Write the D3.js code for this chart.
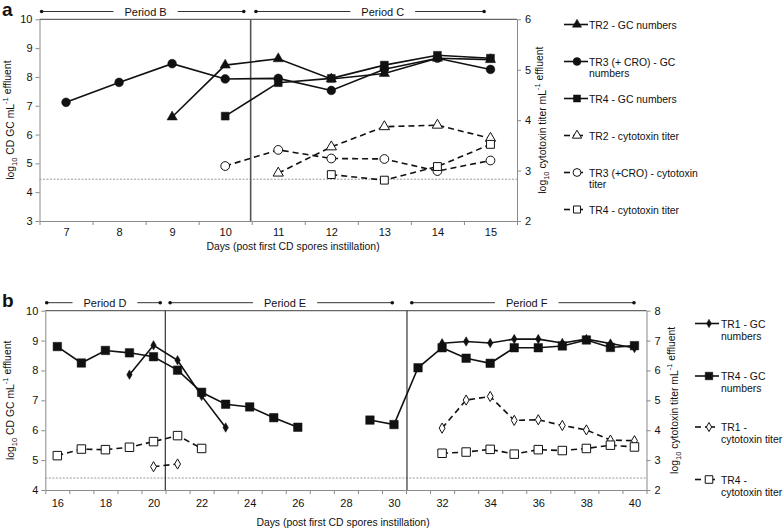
<!DOCTYPE html>
<html><head><meta charset="utf-8">
<script src="https://cdn.jsdelivr.net/npm/d3@7/dist/d3.min.js"></script>
<style>
body{margin:0;background:#fff;}
svg text{font-family:"Liberation Sans",Arial,sans-serif;fill:#111;}
</style></head>
<body><svg id="c" width="784" height="529"></svg>
<script>
// ---------- Panel a data ----------
const daysA = [7,8,9,10,11,12,13,14,15];
const tr2GcA   = [null,null,6.61,8.41,8.63,7.93,8.12,8.65,8.60];
const tr3GcA   = [7.12,7.81,8.46,7.93,7.95,7.53,8.27,8.65,8.26];
const tr4GcA   = [null,null,null,6.64,7.80,7.95,8.41,8.75,8.65];
const tr2CytoA = [null,null,null,null,2.95,3.47,3.87,3.90,3.64];
const tr3CytoA = [null,null,null,3.09,3.41,3.24,3.23,2.99,3.20];
const tr4CytoA = [null,null,null,null,null,2.92,2.81,3.08,3.52];
const leftTicksA = [3,4,5,6,7,8,9,10];
const rightTicksA = [2,3,4,5,6];
const periodsA = [{label:"Period B",from:6.54,to:10.35,mid:8.5},{label:"Period C",from:10.58,to:14.88,mid:12.97}];
const dividerA = [10.48];
const limitA = 4.45;

// ---------- Panel b data ----------
const daysB = d3.range(16,41);
const tr1GcB   = [null,null,null,7.86,8.84,8.34,7.15,6.09,null,null,null,null,null,null,null,null,8.91,8.97,8.92,9.05,9.05,8.92,9.05,8.90,8.75];
const tr4GcB   = [8.80,8.25,8.67,8.59,8.46,8.01,7.27,6.87,6.78,6.42,6.10,null,null,6.34,6.19,8.09,8.76,8.41,8.24,8.76,8.76,8.82,9.02,8.77,8.83];
const tr1CytoB = [null,null,null,null,2.78,2.87,null,null,null,null,null,null,null,null,null,null,4.07,5.01,5.13,4.33,4.35,4.16,4.01,3.67,3.65];
const tr4CytoB = [3.15,3.37,3.35,3.43,3.62,3.82,3.39,null,null,null,null,null,null,null,null,null,3.23,3.27,3.36,3.20,3.35,3.32,3.39,3.50,3.44];
const leftTicksB = [4,5,6,7,8,9,10];
const rightTicksB = [2,3,4,5,6,7,8];
const xLabelsB = [16,18,20,22,24,26,28,30,32,34,36,38,40];
const periodsB = [{label:"Period D",from:15.56,to:20.28,mid:17.98},{label:"Period E",from:20.69,to:29.93,mid:25.47},{label:"Period F",from:30.74,to:39.98,mid:35.52}];
const dividerB = [20.49,30.54];
const limitB = 4.4;

const svg = d3.select("#c");
const axisCol = "#8a8a8a";
const FS = 10.4;

function symbolPath(type,size){ return d3.symbol().type(type).size(size)(); }

function drawPanel(cfg){
  const g = svg.append("g");
  const x = d3.scaleLinear().domain([cfg.days[0]-0.5, cfg.days[cfg.days.length-1]+0.5]).range([cfg.left,cfg.right]);
  const yL = d3.scaleLinear().domain(cfg.lDomain).range([cfg.bottom,cfg.top]);
  const yR = d3.scaleLinear().domain(cfg.rDomain).range([cfg.bottom,cfg.top]);

  g.append("line").attr("x1",cfg.left).attr("x2",cfg.right).attr("y1",cfg.top).attr("y2",cfg.top).attr("stroke","#666").attr("stroke-width",1.2);

  const bounds = d3.range(cfg.days[0]-0.5, cfg.days[cfg.days.length-1]+1, 1);
  const xa = g.append("g").attr("transform",`translate(0,${cfg.bottom})`)
    .call(d3.axisBottom(x).tickValues(bounds).tickFormat("").tickSize(4).tickSizeOuter(0));
  xa.selectAll("path,line").attr("stroke",axisCol);
  const xl = g.append("g").attr("transform",`translate(0,${cfg.bottom})`)
    .call(d3.axisBottom(x).tickValues(cfg.xLabels).tickFormat(d3.format("d")).tickSize(0).tickPadding(cfg.xPad));
  xl.select(".domain").remove();
  xl.selectAll("text").attr("font-size",11).attr("font-family","Liberation Sans, Arial");

  const la = g.append("g").attr("transform",`translate(${cfg.left},0)`)
    .call(d3.axisLeft(yL).tickValues(cfg.lTicks).tickFormat(d3.format("d")).tickSize(4).tickSizeOuter(0).tickPadding(3));
  la.selectAll("path,line").attr("stroke",axisCol);
  la.selectAll("text").attr("font-size",11).attr("font-family","Liberation Sans, Arial");
  const ra = g.append("g").attr("transform",`translate(${cfg.right},0)`)
    .call(d3.axisRight(yR).tickValues(cfg.rTicks).tickFormat(d3.format("d")).tickSize(4).tickSizeOuter(0).tickPadding(4));
  ra.selectAll("path,line").attr("stroke",axisCol);
  ra.selectAll("text").attr("font-size",11).attr("font-family","Liberation Sans, Arial");

  g.append("line").attr("x1",cfg.left).attr("x2",cfg.right).attr("y1",yL(cfg.limit)).attr("y2",yL(cfg.limit))
    .attr("stroke","#999").attr("stroke-width",1).attr("stroke-dasharray","2,1.5");

  cfg.dividers.forEach(d=>{
    g.append("line").attr("x1",x(d)).attr("x2",x(d)).attr("y1",cfg.top).attr("y2",cfg.bottom)
      .attr("stroke",cfg.divCol).attr("stroke-width",cfg.divW);
  });

  cfg.periods.forEach(p=>{
    const t = g.append("text").attr("x",x(p.mid)).attr("y",cfg.periodY+4).attr("text-anchor","middle")
      .attr("font-size",11).text(p.label);
    const tw = t.node().getComputedTextLength();
    const gap = 11;
    const segs = [[x(p.from), x(p.mid)-tw/2-gap],[x(p.mid)+tw/2+gap, x(p.to)]];
    segs.forEach(s=>g.append("line").attr("x1",s[0]).attr("x2",s[1]).attr("y1",cfg.periodY).attr("y2",cfg.periodY).attr("stroke","#333").attr("stroke-width",1));
    [x(p.from),x(p.to)].forEach(px=>g.append("circle").attr("cx",px).attr("cy",cfg.periodY).attr("r",1.8).attr("fill","#111"));
  });

  cfg.series.forEach(s=>{
    const y = s.axis==="L"?yL:yR;
    const pts = cfg.days.map((d,i)=>({d,v:s.values[i]}));
    const line = d3.line().defined(p=>p.v!=null).x(p=>x(p.d)).y(p=>y(p.v));
    g.append("path").attr("d",line(pts)).attr("fill","none").attr("stroke","#111").attr("stroke-width",1.6)
      .attr("stroke-dasharray",s.dash?"6,4":null);
    g.selectAll(null).data(pts.filter(p=>p.v!=null)).join("path")
      .attr("transform",p=>`translate(${x(p.d)},${y(p.v)})`)
      .attr("d",symbolPath(s.sym,s.size))
      .attr("fill",s.open?"#fff":"#111").attr("stroke","#111").attr("stroke-width",s.open?1:0.5);
  });

  cfg.series.forEach((s,i)=>{
    const ly = cfg.legY[i];
    if(s.dash){
      g.append("line").attr("x1",cfg.legX0).attr("x2",cfg.legX0+6).attr("y1",ly).attr("y2",ly).attr("stroke","#111").attr("stroke-width",1.6);
      g.append("line").attr("x1",cfg.legM-4).attr("x2",cfg.legM+6).attr("y1",ly).attr("y2",ly).attr("stroke","#111").attr("stroke-width",1.6);
    } else {
      g.append("line").attr("x1",cfg.legX0).attr("x2",cfg.legX1).attr("y1",ly).attr("y2",ly).attr("stroke","#111").attr("stroke-width",1.6);
    }
    g.append("path").attr("transform",`translate(${cfg.legM},${ly})`).attr("d",symbolPath(s.sym,s.size*0.8))
      .attr("fill",s.open?"#fff":"#111").attr("stroke","#111").attr("stroke-width",s.open?1:0.5);
    const t = g.append("text").attr("x",cfg.legT).attr("y",ly+4).attr("font-size",FS);
    s.label.forEach((ln,k)=>t.append("tspan").attr("x",cfg.legT).attr("dy",k===0?0:cfg.legLH).text(ln));
  });

  function title(xp, yp, parts){
    const t = g.append("text").attr("transform",`translate(${xp},${yp}) rotate(-90)`).attr("text-anchor","middle").attr("font-size",FS);
    parts.forEach(p=>{
      const ts = t.append("tspan").text(p.t);
      if(p.sub){ ts.attr("font-size",7.5).attr("dy",3); }
      else if(p.sup){ ts.attr("font-size",7.5).attr("dy",-6); }
      else if(p.back){ ts.attr("dy",p.back); }
    });
  }
  title(cfg.ltX,(cfg.top+cfg.bottom)/2,[{t:"log"},{t:"10",sub:true},{t:" CD GC mL",back:-3},{t:"-1",sup:true},{t:" effluent",back:3}]);
  title(cfg.rtX,(cfg.top+cfg.bottom)/2,[{t:"log"},{t:"10",sub:true},{t:" cytotoxin titer mL",back:-3},{t:"-1",sup:true},{t:" effluent",back:3}]);

  g.append("text").attr("x",cfg.xtX).attr("y",cfg.xtY).attr("text-anchor","middle").attr("font-size",FS).text("Days (post first CD spores instillation)");
  g.append("text").attr("x",cfg.tagX).attr("y",cfg.tagY).attr("font-size",19).attr("font-weight","bold").text(cfg.tag);
}

drawPanel({
  tag:"a", tagX:2, tagY:16,
  days:daysA, xLabels:daysA, xPad:7,
  left:39.5, right:517, top:19.3, bottom:221,
  lDomain:[3,10], rDomain:[2,6], lTicks:leftTicksA, rTicks:rightTicksA,
  limit:limitA, dividers:dividerA, divCol:"#555", divW:1.6,
  periods:periodsA, periodY:11.5,
  series:[
    {label:["TR2 - GC numbers"], values:tr2GcA, axis:"L", sym:d3.symbolTriangle, size:46, open:false, dash:false},
    {label:["TR3 (+ CRO) - GC","numbers"], values:tr3GcA, axis:"L", sym:d3.symbolCircle, size:60, open:false, dash:false},
    {label:["TR4 - GC numbers"], values:tr4GcA, axis:"L", sym:d3.symbolSquare, size:62, open:false, dash:false},
    {label:["TR2 - cytotoxin titer"], values:tr2CytoA, axis:"R", sym:d3.symbolTriangle, size:46, open:true, dash:true},
    {label:["TR3 (+CRO) - cytotoxin","titer"], values:tr3CytoA, axis:"R", sym:d3.symbolCircle, size:60, open:true, dash:true},
    {label:["TR4 - cytotoxin titer"], values:tr4CytoA, axis:"R", sym:d3.symbolSquare, size:62, open:true, dash:true}
  ],
  legX0:564, legX1:588, legM:577, legT:589, legLH:11.5,
  legY:[24.5,61.5,98.5,135.5,172.5,209.5],
  ltX:14, rtX:546, xtX:293, xtY:250
});

drawPanel({
  tag:"b", tagX:2, tagY:307,
  days:daysB, xLabels:xLabelsB, xPad:9,
  left:45.3, right:646.5, top:310.7, bottom:490,
  lDomain:[4,10], rDomain:[2,8], lTicks:leftTicksB, rTicks:rightTicksB,
  limit:limitB, dividers:dividerB, divCol:"#222", divW:1.1,
  periods:periodsB, periodY:302.7,
  series:[
    {label:["TR1 - GC","numbers"], values:tr1GcB, axis:"L", sym:d3.symbolDiamond, size:26, open:false, dash:false},
    {label:["TR4 - GC","numbers"], values:tr4GcB, axis:"L", sym:d3.symbolSquare, size:72, open:false, dash:false},
    {label:["TR1 -","cytotoxin titer"], values:tr1CytoB, axis:"R", sym:d3.symbolDiamond, size:30, open:true, dash:true},
    {label:["TR4 -","cytotoxin titer"], values:tr4CytoB, axis:"R", sym:d3.symbolSquare, size:72, open:true, dash:true}
  ],
  legX0:695, legX1:719, legM:709, legT:721, legLH:12,
  legY:[323.5,376,427,479.5],
  ltX:14, rtX:678, xtX:343, xtY:526
});
</script></body></html>
